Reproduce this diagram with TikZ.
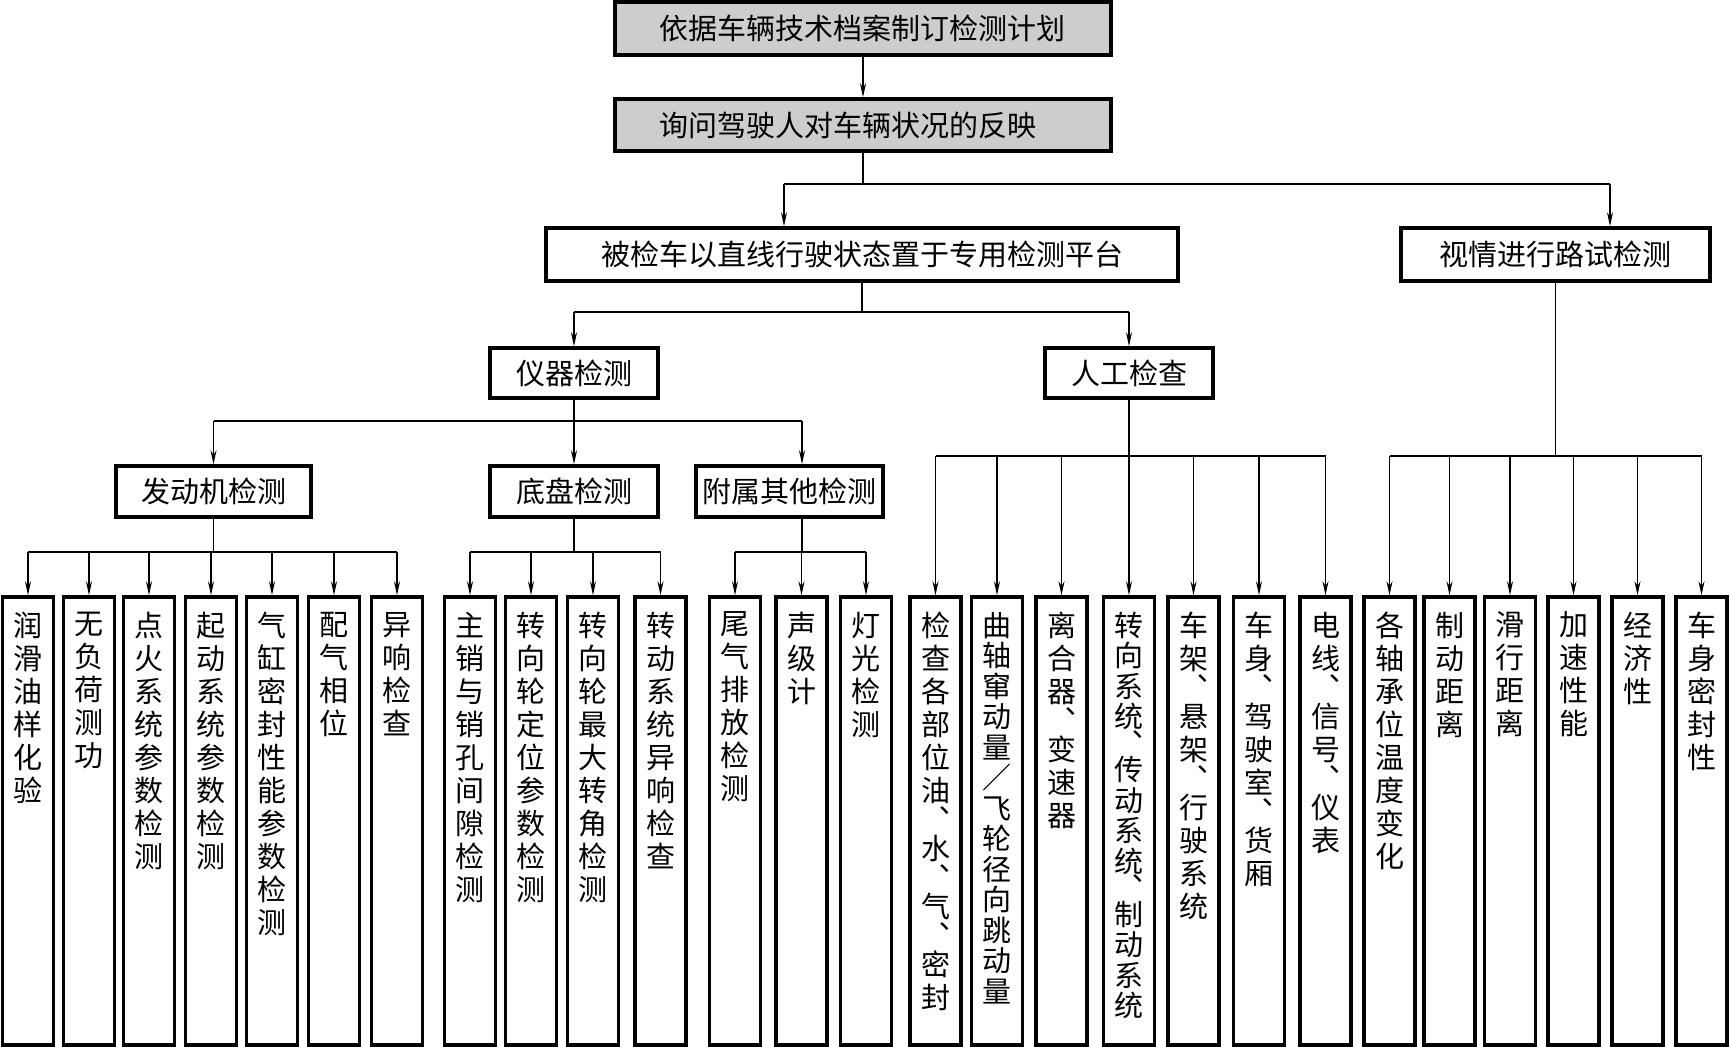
\documentclass[tikz,border=0pt]{standalone}
\usepackage{fontspec}
\newfontfamily\cjk{Noto Sans CJK SC}
\usetikzlibrary{arrows.meta}
\definecolor{boxgray}{RGB}{205,205,205}
\def\vcharsA#1{\ifx\relax#1\else\vcharB#1\expandafter\vcharsA\fi}
\def\vcharB#1{\ifx#1、\vspace{-4pt}\leavevmode︑\par\vspace{-4pt}\else\leavevmode#1\par\fi}
\newcommand\vtext[2][33pt]{\parbox[t][430pt][t]{50pt}{\centering\baselineskip=#1\relax\lineskiplimit=-100pt\lineskip=0pt\parskip=0pt\vspace*{6pt}\expandafter\vcharsA#2\relax}}
\tikzset{
  box/.style={draw, line width=3.5pt, inner sep=0pt, font=\cjk\fontsize{29}{33}\selectfont},
  topbox/.style={box, fill=boxgray, minimum width=496, minimum height=53, text width=408pt, align=left},
  leaf/.style={box, minimum width=51, minimum height=448},
  line/.style={line width=1.3pt},
  arr/.style={line, -{Stealth[length=14pt,width=6pt]}}
}
\begin{document}
\begin{tikzpicture}[x=1pt,y=-1pt]
\useasboundingbox (0,0) rectangle (1730,1047);
% upper boxes
\node[topbox] (plan) at (863,28.5) {依据车辆技术档案制订检测计划};
\node[topbox, minimum height=52] (ask) at (863,125) {询问驾驶人对车辆状况的反映};
\node[box, minimum width=632, minimum height=53] (plat) at (862,254.5) {被检车以直线行驶状态置于专用检测平台};
\node[box, minimum width=309, minimum height=53] (road) at (1555.5,254.5) {视情进行路试检测};
\node[box, minimum width=168, minimum height=50] (inst) at (574,373) {仪器检测};
\node[box, minimum width=168, minimum height=50] (man) at (1129,373) {人工检查};
\node[box, minimum width=195, minimum height=51] (eng) at (213.5,491.5) {发动机检测};
\node[box, minimum width=168, minimum height=51] (chs) at (574,491.5) {底盘检测};
\node[box, minimum width=187, minimum height=51] (oth) at (789.5,491.5) {附属其他检测};
% leaves
\foreach \n/\x/\txt/\p in {
  e1/28/润滑油样化验/33pt, e2/89/无负荷测功/33pt, e3/149/点火系统参数检测/33pt,
  e4/211/起动系统参数检测/33pt, e5/272/气缸密封性能参数检测/33pt, e6/334/配气相位/33pt,
  e7/397/异响检查/33pt,
  c1/470/主销与销孔间隙检测/33pt, c2/531/转向轮定位参数检测/33pt, c3/593/转向轮最大转角检测/33pt,
  c4/660.5/转动系统异响检查/33pt,
  o1/735/尾气排放检测/33pt, o2/801.5/声级计/33pt, o3/866/灯光检测/33pt,
  m1/935.5/检查各部位油、水、气、密封/33pt, m2/997/曲轴窜动量／飞轮径向跳动量/30.5pt,
  m3/1061.5/离合器、变速器/33pt, m4/1129/转向系统、传动系统、制动系统/30.5pt,
  m5/1193.5/车架、悬架、行驶系统/33pt, m6/1259/车身、驾驶室、货厢/33pt,
  m7/1325.5/电线、信号、仪表/33pt,
  r1/1389.5/各轴承位温度变化/33pt, r2/1449.5/制动距离/33pt, r3/1510/滑行距离/33pt,
  r4/1573.5/加速性能/33pt, r5/1637.5/经济性/33pt, r6/1701.5/车身密封性/33pt}
  {\node[leaf] (\n) at (\x,821) {\vtext[\p]{\txt}};}
% helper coordinates
\coordinate (b1L) at (784,184);
\coordinate (b1R) at (1610,184);
\coordinate (y2) at (0,312);
\coordinate (y3) at (0,421);
\coordinate (y4) at (0,552);
\coordinate (y5) at (0,456);
\coordinate (ox) at (802,0);
% level 0 / 1
\draw[arr] (plan) -- (ask);
\draw[line] (ask.south) -- (ask.south |- b1L);
\draw[line] (b1L) -- (b1R);
\draw[arr] (b1L) -- (b1L |- plat.north);
\draw[arr] (b1R) -- (b1R |- road.north);
% level 2
\draw[line] (plat.south) -- (plat.south |- y2);
\draw[line] (inst.north |- y2) -- (man.north |- y2);
\draw[arr] (inst.north |- y2) -- (inst.north);
\draw[arr] (man.north |- y2) -- (man.north);
% level 3
\draw[line] (inst.south) -- (inst.south |- y3);
\draw[line] (eng.north |- y3) -- (ox |- y3);
\draw[arr] (eng.north |- y3) -- (eng.north);
\draw[arr] (chs.north |- y3) -- (chs.north);
\draw[arr] (ox |- y3) -- (ox |- oth.north);
% engine leaves
\draw[line] (eng.south) -- (eng.south |- y4);
\draw[line] (e1.north |- y4) -- (e7.north |- y4);
\foreach \i in {1,...,7} {\draw[arr] (e\i.north |- y4) -- (e\i.north);}
% chassis leaves
\draw[line] (chs.south) -- (chs.south |- y4);
\draw[line] (c1.north |- y4) -- (c4.north |- y4);
\foreach \i in {1,...,4} {\draw[arr] (c\i.north |- y4) -- (c\i.north);}
% other leaves
\draw[line] (ox |- oth.south) -- (ox |- y4);
\draw[line] (o1.north |- y4) -- (o3.north |- y4);
\foreach \i in {1,...,3} {\draw[arr] (o\i.north |- y4) -- (o\i.north);}
% manual leaves
\draw[line] (man.south) -- (man.south |- y5);
\draw[line] (m1.north |- y5) -- (m7.north |- y5);
\foreach \i in {1,...,7} {\draw[arr] (m\i.north |- y5) -- (m\i.north);}
% road leaves
\draw[line] (road.south) -- (road.south |- y5);
\draw[line] (r1.north |- y5) -- (r6.north |- y5);
\foreach \i in {1,...,6} {\draw[arr] (r\i.north |- y5) -- (r\i.north);}
\end{tikzpicture}
\end{document}
